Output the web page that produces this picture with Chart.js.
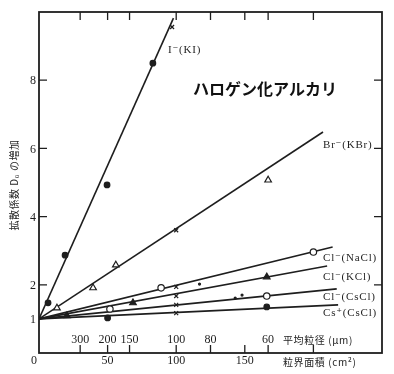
<!DOCTYPE html>
<html>
<head>
<meta charset="utf-8">
<script src="https://cdn.jsdelivr.net/npm/chart.js@4"></script>
<style>
  html, body { margin: 0; padding: 0; background: #fff; }
  #wrap { width: 394px; height: 374px; position: relative; }
</style>
</head>
<body>
<div id="wrap"><canvas id="halide"></canvas></div>
<script>
/* Diffusion coefficient increase vs. grain-boundary area, alkali halides */

// every line starts from D/D0 = 1 at zero boundary area
const seriesNames = ['I⁻(KI)', 'Br⁻(KBr)', 'Cl⁻(NaCl)', 'Cl⁻(KCl)', 'Cl⁻(CsCl)', 'Cs⁺(CsCl)'];
const lineEndX = [98, 207, 214, 210, 217, 218];
const lineEndY = [9.82, 6.48, 3.11, 2.55, 1.88, 1.41];

// measured points (x: boundary area cm², y: increase of D0)
const kiX = [6.6, 19, 49.6, 83, 97];
const kiY = [1.47, 2.87, 4.93, 8.5, 9.56];
const kiMark = ['dot', 'dot', 'dot', 'dot', 'x'];

const kbrX = [13.1, 39.4, 56, 100, 167];
const kbrY = [1.32, 1.91, 2.58, 3.6, 5.07];
const kbrMark = ['tri', 'tri', 'tri', 'x', 'tri'];

const naclX = [89, 100, 117, 200];
const naclY = [1.91, 1.94, 2.02, 2.96];
const naclMark = ['ring', 'x', 'spot', 'ring'];

const kclX = [20.4, 68.5, 100, 166];
const kclY = [1.09, 1.47, 1.67, 2.23];
const kclMark = ['ftri', 'ftri', 'x', 'ftri'];

const csclX = [51.7, 100, 143, 148, 166];
const csclY = [1.29, 1.41, 1.61, 1.70, 1.67];
const csclMark = ['ring', 'x', 'spot', 'spot', 'ring'];

const csX = [50, 100, 166];
const csY = [1.03, 1.17, 1.35];
const csMark = ['dot', 'x', 'dot'];

// axis ticks
const yTickLabels = [1, 2, 4, 6, 8];
const yTickMarks = [2, 4, 6, 8];
const areaTicks = [0, 50, 100, 150];
const grainTickAt = [30, 50, 66, 100, 125, 150, 167, 200];   // positions on area scale
const grainLabelAt = [30, 50, 66, 100, 125, 167];
const grainLabels = ['300', '200', '150', '100', '80', '60'];

const INK = '#1e1e1e';
const serif = '"Liberation Serif", "DejaVu Serif", serif';
const jp = '"Noto Sans CJK JP", "Noto Sans CJK SC", sans-serif';

const markStyle = {
    dot:  { style: 'circle',    r: 2.8, fill: INK },
    ring: { style: 'circle',    r: 3.2, fill: '#fff' },
    tri:  { style: 'triangle',  r: 3.8, fill: '#fff' },
    ftri: { style: 'triangle',  r: 3.8, fill: INK },
    x:    { style: 'crossRot',  r: 2.8, fill: INK },
    spot: { style: 'circle',    r: 1,   fill: INK }
};

const pointSets = [
    [kiX, kiY, kiMark], [kbrX, kbrY, kbrMark], [naclX, naclY, naclMark],
    [kclX, kclY, kclMark], [csclX, csclY, csclMark], [csX, csY, csMark]
];

const datasets = [];
seriesNames.forEach((name, i) => {
    datasets.push({
        label: name,
        data: [{ x: 0, y: 1 }, { x: lineEndX[i], y: lineEndY[i] }],
        showLine: true, borderColor: INK, borderWidth: 1.6, pointRadius: 0, order: 2
    });
    const [xs, ys, marks] = pointSets[i];
    datasets.push({
        label: name + ' pts',
        data: xs.map((x, j) => ({ x, y: ys[j] })),
        showLine: false,
        pointStyle: marks.map(m => markStyle[m].style),
        pointRadius: marks.map(m => markStyle[m].r),
        pointBackgroundColor: marks.map(m => markStyle[m].fill),
        pointBorderColor: INK, pointBorderWidth: 1.2, order: 1
    });
});

const axesPlugin = {
    id: 'axesPlugin',
    afterDraw(chart) {
        const { ctx, chartArea: a, scales: { x, y } } = chart;
        ctx.save();
        ctx.strokeStyle = INK;
        ctx.lineWidth = 1.8;
        ctx.strokeRect(a.left, a.top, a.right - a.left, a.bottom - a.top);

        ctx.lineWidth = 1.3;
        ctx.beginPath();
        yTickMarks.forEach(v => {
            const p = y.getPixelForValue(v);
            ctx.moveTo(a.left, p); ctx.lineTo(a.left + 8, p);
            ctx.moveTo(a.right, p); ctx.lineTo(a.right - 8, p);
        });
        grainTickAt.forEach(v => {
            const p = x.getPixelForValue(v);
            ctx.moveTo(p, a.top); ctx.lineTo(p, a.top + 8);
            ctx.moveTo(p, a.bottom); ctx.lineTo(p, a.bottom - 8);
        });
        ctx.stroke();

        ctx.fillStyle = INK;
        ctx.font = '12px ' + serif;
        ctx.textAlign = 'center';
        ctx.textBaseline = 'middle';
        yTickLabels.forEach(v => ctx.fillText(String(v), a.left - 6, y.getPixelForValue(v) + 1));
        areaTicks.forEach(v => ctx.fillText(String(v), x.getPixelForValue(v) - (v === 0 ? 5 : 0), a.bottom + 8));
        grainLabelAt.forEach((v, i) => ctx.fillText(grainLabels[i], x.getPixelForValue(v), a.bottom - 13));

        ctx.textAlign = 'left';
        ctx.font = '10px ' + jp;
        ctx.letterSpacing = '0.6px';
        ctx.fillText('平均粒径 (μm)', 283, a.bottom - 13);
        ctx.fillText('粒界面積 (cm²)', 283, a.bottom + 9);

        // series labels
        ctx.font = '11px ' + serif;
        ctx.letterSpacing = '0.8px';
        const labelPos = [[168, 50], [323, 145], [323, 258], [323, 277], [323, 297], [323, 313]];
        seriesNames.forEach((n, i) => ctx.fillText(n, labelPos[i][0], labelPos[i][1]));
        ctx.letterSpacing = '0px';

        // title
        ctx.font = 'bold 16px ' + jp;
        ctx.textAlign = 'center';
        ctx.fillStyle = '#111';
        ctx.fillText('ハロゲン化アルカリ', 265, 89);

        // y axis title, vertical
        ctx.save();
        ctx.translate(14, 185);
        ctx.rotate(-Math.PI / 2);
        ctx.font = '10px ' + jp;
        ctx.letterSpacing = '0.5px';
        ctx.fillStyle = INK;
        ctx.fillText('拡散係数 D₀ の増加', 0, 0);
        ctx.restore();

        ctx.fillStyle = '#6aa84f';
        ctx.font = 'bold 16px ' + jp;
        ctx.textAlign = 'left';
        ctx.fillText('C', 383, 380);
        ctx.restore();
    }
};

new Chart(document.getElementById('halide'), {
    type: 'scatter',
    data: { datasets },
    options: {
        responsive: true,
        maintainAspectRatio: false,
        animation: false,
        layout: { padding: { left: 39, right: 12, top: 12, bottom: 21 } },
        plugins: { legend: { display: false }, tooltip: { enabled: false } },
        scales: {
            x: { type: 'linear', min: 0, max: 250, display: false },
            y: { type: 'linear', min: 0, max: 10, display: false }
        }
    },
    plugins: [axesPlugin]
});
</script>
</body>
</html>
